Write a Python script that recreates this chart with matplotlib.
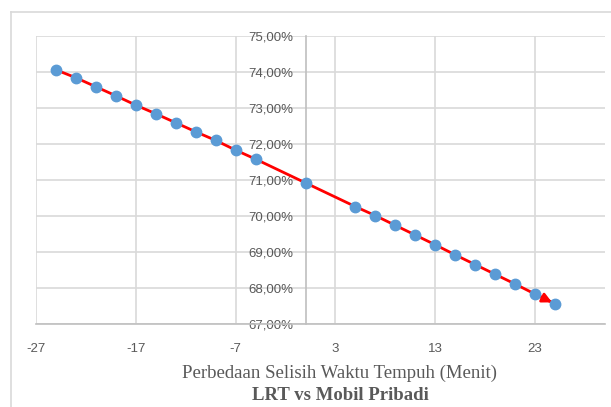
import matplotlib.pyplot as plt
from matplotlib.lines import Line2D
from matplotlib.ticker import FuncFormatter

plt.rcParams['axes.unicode_minus'] = False

# selisih waktu tempuh (menit) dan probabilitas pilih LRT
selisih = [-25, -23, -21, -19, -17, -15, -13, -11, -9, -7, -5,
           0,
           5, 7, 9, 11, 13, 15, 17, 19, 21, 23, 25]
prob = [74.06, 73.84, 73.59, 73.34, 73.08, 72.84, 72.59, 72.34, 72.10, 71.83, 71.58,
        70.92,
        70.26, 70.01, 69.74, 69.47, 69.20, 68.92, 68.65, 68.38, 68.11, 67.83, 67.56]
x_ticks = [-27, -17, -7, 3, 13, 23]
y_ticks = [67, 68, 69, 70, 71, 72, 73, 74, 75]

fig = plt.figure(figsize=(6.11, 4.07), dpi=100)
W, H = 611, 407
ax = fig.add_axes([36 / W, 1 - 324 / H, (605 - 36) / W, (324 - 36) / H])

# garis bingkai chart (Excel)
fig.add_artist(Line2D([11 / W, 1], [1 - 12 / H, 1 - 12 / H], color='#d9d9d9', lw=1.2,
                      transform=fig.transFigure))
fig.add_artist(Line2D([11 / W, 11 / W], [0, 1 - 12 / H], color='#d9d9d9', lw=1.2,
                      transform=fig.transFigure))

ax.plot(selisih, prob, color='red', lw=2, zorder=3)
ax.annotate('', xy=(selisih[-1] - 0.3, prob[-1] + 0.04), xytext=(selisih[-2], prob[-2]),
            arrowprops=dict(arrowstyle='-|>', color='red', lw=2, mutation_scale=14,
                            shrinkA=0, shrinkB=0), zorder=3)
ax.plot(selisih, prob, 'o', color='#5b9bd5', markersize=7.5, zorder=4)

ax.set_xlim(-27, 30)
ax.set_ylim(67, 75)
ax.set_xticks(x_ticks)
ax.set_yticks(y_ticks)
ax.yaxis.set_major_formatter(FuncFormatter(lambda v, p: f'{v:.2f}%'.replace('.', ',')))
ax.grid(True, color='#d9d9d9', lw=1.2)
ax.set_axisbelow(True)

for s in ['top', 'right']:
    ax.spines[s].set_visible(False)
ax.spines['left'].set_position(('data', 0))
ax.spines['left'].set_color('#bfbfbf')
ax.spines['bottom'].set_color('#bfbfbf')
ax.spines['left'].set_linewidth(1.2)
ax.spines['bottom'].set_linewidth(1.2)

ax.tick_params(length=0, colors='#595959', labelsize=9.5)
ax.tick_params(axis='x', pad=14)
ax.tick_params(axis='y', pad=9)
for lab in ax.get_xticklabels() + ax.get_yticklabels():
    lab.set_family('Liberation Sans')

fig.text(339 / W, 1 - 373 / H, 'Perbedaan Selisih Waktu Tempuh (Menit)', ha='center', va='center',
         family='Liberation Serif', fontsize=13.5, color='#595959')
fig.text(340 / W, 1 - 395 / H, 'LRT vs Mobil Pribadi', ha='center', va='center',
         family='Liberation Serif', fontsize=13.5, fontweight='bold', color='#595959')

fig.savefig('out.png', dpi=100)
